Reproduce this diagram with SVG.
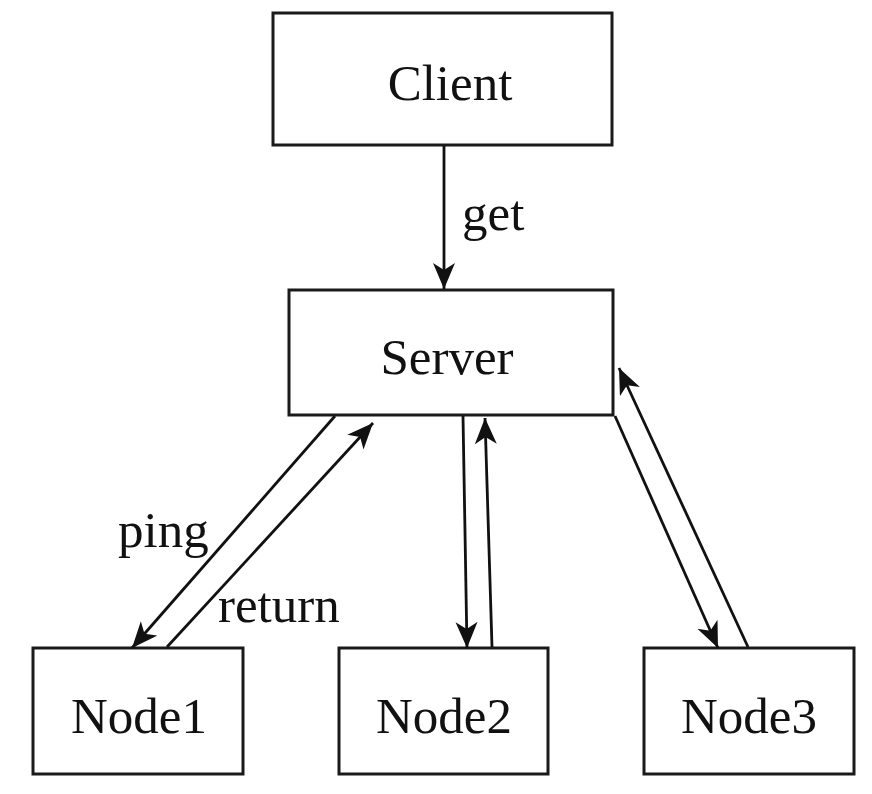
<svg xmlns="http://www.w3.org/2000/svg" width="872" height="794" viewBox="0 0 872 794">
<style>
.box{fill:#fff;stroke:#1a1a1a;stroke-width:3}
.lbl{font-family:"Liberation Serif","Times New Roman",serif;font-size:51px;fill:#111}
.mid{text-anchor:middle}
.ln{stroke:#111;stroke-width:2.8;fill:none;marker-end:url(#ah)}
</style>
<defs>
<marker id="ah" markerUnits="userSpaceOnUse" markerWidth="28" markerHeight="24" viewBox="0 0 28 24" refX="26" refY="11" orient="auto">
<path d="M0,0 L26,11 L0,22 L7,11 Z" fill="#111"/>
</marker>
</defs>
<rect width="872" height="794" fill="#fff"/>
<g id="client"><rect class="box" x="273" y="13" width="339" height="132"/><text class="lbl mid" x="450" y="100">Client</text></g>
<g id="server"><rect class="box" x="289" y="290" width="324" height="125"/><text class="lbl mid" x="447" y="374">Server</text></g>
<g id="node1"><rect class="box" x="33" y="648" width="210" height="126"/><text class="lbl mid" x="139" y="733">Node1</text></g>
<g id="node2"><rect class="box" x="339" y="648" width="209" height="126"/><text class="lbl mid" x="444" y="733">Node2</text></g>
<g id="node3"><rect class="box" x="644" y="648" width="210" height="126"/><text class="lbl mid" x="749" y="733">Node3</text></g>
<g id="connectors">
<line class="ln" x1="444" y1="146" x2="444" y2="289"/>
<line class="ln" x1="335" y1="416" x2="132" y2="648"/>
<line class="ln" x1="167" y1="647" x2="373" y2="423"/>
<line class="ln" x1="463" y1="416" x2="467" y2="648"/>
<line class="ln" x1="492" y1="647" x2="485" y2="418"/>
<line class="ln" x1="615" y1="416" x2="718" y2="648"/>
<line class="ln" x1="748" y1="647" x2="619" y2="368"/>
<text class="lbl" x="462" y="230">get</text>
<text class="lbl" x="118" y="547">ping</text>
<text class="lbl" x="218" y="622">return</text>
</g>
</svg>
